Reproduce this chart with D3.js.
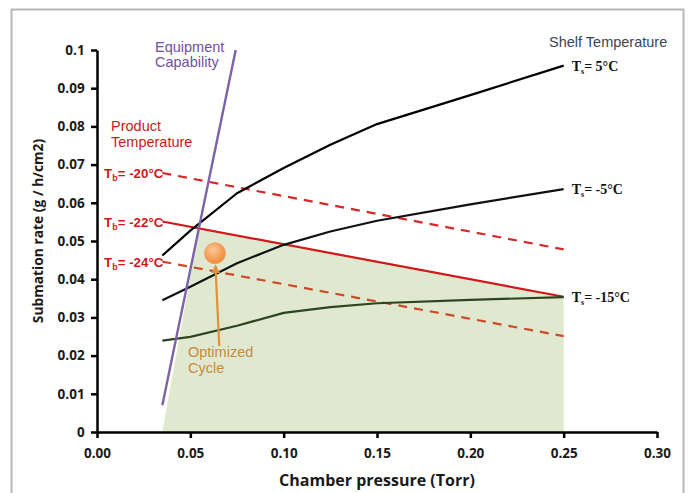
<!DOCTYPE html>
<html>
<head>
<meta charset="utf-8">
<script src="https://cdn.jsdelivr.net/npm/d3@7"></script>
<style>
  body { margin: 0; background: #fff; }
  svg { font-family: "Liberation Sans", Arial, sans-serif; }
</style>
</head>
<body>
<div id="chart"></div>
<script>
// pressures (Torr) where the curves were read
const pressure = [0.035, 0.05, 0.075, 0.10, 0.125, 0.15, 0.20, 0.25];
// shelf temperature curves (g/h/cm2)
const shelf5 = [0.0462, 0.0527, 0.0625, 0.0691, 0.0752, 0.0806, 0.0882, 0.0959];
const shelfM5 = [0.0345, 0.038, 0.0442, 0.049, 0.0525, 0.0553, 0.0596, 0.0636];
const shelfM15 = [0.0239, 0.0249, 0.0278, 0.0312, 0.0327, 0.0337, 0.0346, 0.0353];
const shelfLabels = ["5°C", "-5°C", "-15°C"];
// product temperature lines: start / end values
const productX = [0.035, 0.25];
const productM20 = [0.0678, 0.0478];
const productM22 = [0.0551, 0.0354];
const productM24 = [0.0446, 0.0251];
const productLabels = ["-20°C", "-22°C", "-24°C"];
// equipment capability
const equipX = [0.035, 0.0743];
const equipY = [0.007, 0.1];
// optimized cycle point
const optimum = {x: 0.0632, y: 0.0468};
const arrowFrom = {x: 0.0655, y: 0.0225};
const xTicks = [0, 0.05, 0.10, 0.15, 0.20, 0.25, 0.30];
const yTicks = [0, 0.01, 0.02, 0.03, 0.04, 0.05, 0.06, 0.07, 0.08, 0.09, 0.1];

const width = 689, height = 493;
const margin = {left: 97, right: 32, top: 50, bottom: 61};

const svg = d3.select("#chart").append("svg")
    .attr("width", width)
    .attr("height", height);

// outer frame
svg.append("rect")
    .attr("x", 11.5).attr("y", 9.5)
    .attr("width", 672).attr("height", 500)
    .attr("fill", "none")
    .attr("stroke", "#b8b8b8")
    .attr("stroke-width", 2);

const x = d3.scaleLinear().domain([0, 0.30]).range([margin.left, width - margin.right]);
const y = d3.scaleLinear().domain([0, 0.1]).range([height - margin.bottom, margin.top]);

// green operating region: bounded by equipment line, -22°C line and 0.25 Torr
const eSlope = (equipY[1] - equipY[0]) / (equipX[1] - equipX[0]);
const pSlope = (productM22[1] - productM22[0]) / (productX[1] - productX[0]);
const ix = productX[0] + (productM22[0] - equipY[0]) / (eSlope - pSlope);
const iy = productM22[0] + pSlope * (ix - productX[0]);
const region = [[productX[0], 0], [ix, iy], [productX[1], productM22[1]], [productX[1], 0]];

svg.append("path")
    .attr("d", d3.line().x(d => x(d[0])).y(d => y(d[1]))(region) + "Z")
    .attr("fill", "#e0e9cf");

const line = d3.line().x(d => x(d[0])).y(d => y(d[1]));

// product temperature lines
const products = [
  {vals: productM20, color: "#d42a2a", dash: "9,7"},
  {vals: productM22, color: "#d01818", dash: null},
  {vals: productM24, color: "#cc4a28", dash: "9,7"}
];
products.forEach(p => {
  svg.append("path")
      .attr("d", line(productX.map((v, i) => [v, p.vals[i]])))
      .attr("fill", "none")
      .attr("stroke", p.color)
      .attr("stroke-width", 2.2)
      .attr("stroke-dasharray", p.dash);
});

// shelf curves
const shelves = [
  {vals: shelf5, color: "#000"},
  {vals: shelfM5, color: "#111"},
  {vals: shelfM15, color: "#2e4420"}
];
shelves.forEach(s => {
  svg.append("path")
      .attr("d", line(pressure.map((v, i) => [v, s.vals[i]])))
      .attr("fill", "none")
      .attr("stroke", s.color)
      .attr("stroke-width", 2.2)
      .attr("stroke-linejoin", "round");
});

// equipment capability
svg.append("line")
    .attr("x1", x(equipX[0])).attr("y1", y(equipY[0]))
    .attr("x2", x(equipX[1])).attr("y2", y(equipY[1]))
    .attr("stroke", "#7d62a8")
    .attr("stroke-width", 2.4);

// axes
const xAxis = d3.axisBottom(x).tickValues(xTicks).tickFormat(d3.format(".2f")).tickSize(6).tickSizeOuter(0);
const yAxis = d3.axisLeft(y).tickValues(yTicks).tickFormat(d => d === 0 ? "0" : d3.format(".2~f")(d)).tickSize(6).tickSizeOuter(0);

const gx = svg.append("g").attr("transform", `translate(0,${y(0)})`).call(xAxis);
const gy = svg.append("g").attr("transform", `translate(${x(0)},0)`).call(yAxis);
[gx, gy].forEach(g => {
  g.select(".domain").attr("stroke", "#000").attr("stroke-width", 2.5);
  g.selectAll(".tick line").attr("stroke", "#000").attr("stroke-width", 2.5);
  g.selectAll(".tick text")
      .attr("fill", "#1a1a1a")
      .style("font-size", "13.5px")
      .style("font-weight", "bold")
      .style("font-family", "'Open Sans', 'Liberation Sans', sans-serif");
});
gx.selectAll(".tick text").attr("dy", "1.25em");
gy.selectAll(".tick text").attr("dx", "-0.25em");

// axis titles
svg.append("text")
    .attr("x", 377).attr("y", 486)
    .attr("text-anchor", "middle")
    .style("font-family", "'Open Sans', 'Liberation Sans', sans-serif")
    .style("font-size", "16px").style("font-weight", "bold")
    .attr("fill", "#1a1a1a")
    .text("Chamber pressure (Torr)");

svg.append("text")
    .attr("transform", `translate(43,231) rotate(-90)`)
    .attr("text-anchor", "middle")
    .style("font-family", "'Open Sans', 'Liberation Sans', sans-serif")
    .style("font-size", "13.8px").style("font-weight", "bold")
    .attr("fill", "#1a1a1a")
    .text("Submation rate (g / h/cm2)");

// optimized cycle marker
const defs = svg.append("defs");
const grad = defs.append("radialGradient").attr("id", "orb").attr("cx", "40%").attr("cy", "35%").attr("r", "65%");
grad.append("stop").attr("offset", "0%").attr("stop-color", "#fcc79a");
grad.append("stop").attr("offset", "100%").attr("stop-color", "#f08a35");
defs.append("marker").attr("id", "arrow").attr("viewBox", "0 0 10 10")
    .attr("refX", 8).attr("refY", 5).attr("markerWidth", 4).attr("markerHeight", 4)
    .attr("orient", "auto")
    .append("path").attr("d", "M0,0L10,5L0,10z").attr("fill", "#e0913a");

svg.append("line")
    .attr("x1", x(arrowFrom.x)).attr("y1", y(arrowFrom.y))
    .attr("x2", x(optimum.x) + 0.5).attr("y2", y(optimum.y) + 13)
    .attr("stroke", "#e0913a").attr("stroke-width", 2.2)
    .attr("marker-end", "url(#arrow)");

svg.append("circle")
    .attr("cx", x(optimum.x)).attr("cy", y(optimum.y)).attr("r", 10.5)
    .attr("fill", "url(#orb)")
    .attr("stroke", "#f0a060").attr("stroke-width", 0.8);

const labelFont = "'Liberation Sans', Arial, sans-serif";
function multi(lines, px, py, color, lh) {
  const t = svg.append("text").attr("fill", color)
      .style("font-family", labelFont).style("font-size", "14.5px");
  lines.forEach((l, i) => t.append("tspan").attr("x", px).attr("y", py + i * lh).text(l));
  return t;
}
multi(["Optimized", "Cycle"], 188, 357, "#c8893e", 16);
multi(["Equipment", "Capability"], 155, 52, "#7050a0", 15);
multi(["Product", "Temperature"], 111, 131, "#d01818", 16);

svg.append("text")
    .attr("x", 549).attr("y", 47)
    .attr("fill", "#3a4656")
    .style("font-family", labelFont).style("font-size", "14.5px")
    .text("Shelf Temperature");

// product temperature labels
productLabels.forEach((lab, i) => {
  const t = svg.append("text")
      .attr("x", x(productX[0]) + 1).attr("y", y(products[i].vals[0]) + 5)
      .attr("text-anchor", "end")
      .attr("fill", "#d01818")
      .style("font-family", labelFont).style("font-size", "13.3px").style("font-weight", "bold");
  t.append("tspan").text("T");
  t.append("tspan").attr("dy", 3).style("font-size", "9px").text("b");
  t.append("tspan").attr("dy", -3).text("= " + lab);
});

// shelf temperature labels
shelfLabels.forEach((lab, i) => {
  const t = svg.append("text")
      .attr("x", x(0.25) + 8).attr("y", y(shelves[i].vals[pressure.length - 1]) + 5)
      .attr("fill", "#111")
      .style("font-family", "'Liberation Serif', 'Times New Roman', serif")
      .style("font-size", "14px").style("font-weight", "bold");
  t.append("tspan").text("T");
  t.append("tspan").attr("dy", 3).style("font-size", "8px").text("s");
  t.append("tspan").attr("dy", -3).text("= " + lab);
});
</script>
</body>
</html>
